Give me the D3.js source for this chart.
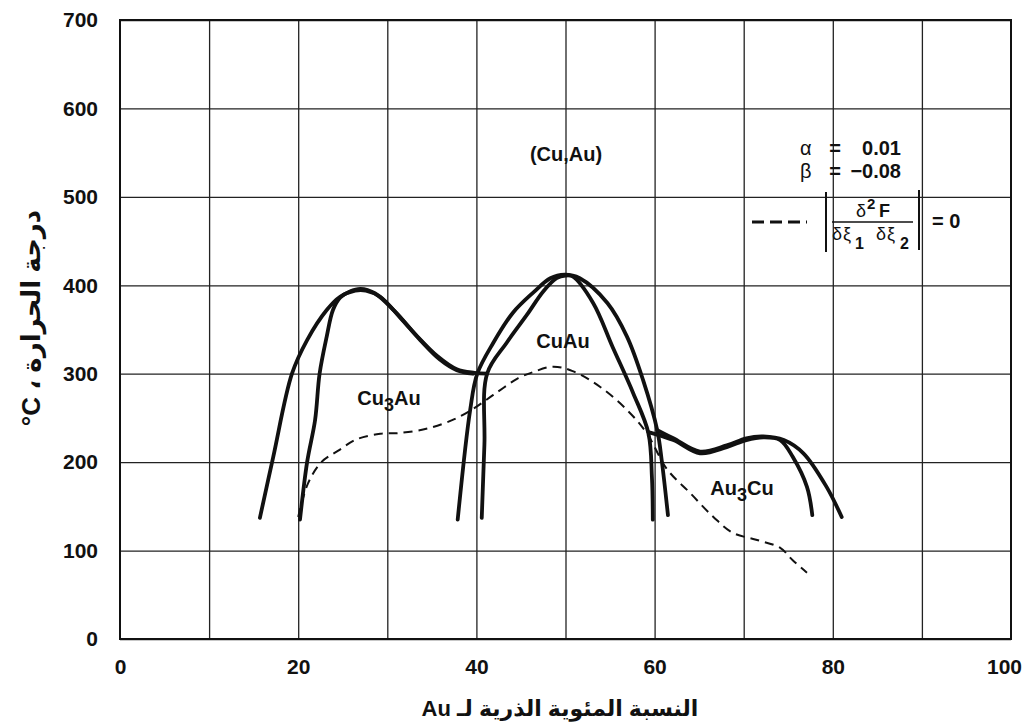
<!DOCTYPE html>
<html>
<head>
<meta charset="utf-8">
<script src="https://cdn.jsdelivr.net/npm/d3@7"></script>
<style>
body { margin: 0; background: #fff; }
text { font-family: "Liberation Sans", Arial, "DejaVu Sans", sans-serif; font-weight: bold; fill: #111; }
</style>
</head>
<body>
<div id="chart"></div>
<script>
// tick values
var xTicks = [0, 20, 40, 60, 80, 100];
var xGridTicks = [10, 20, 30, 40, 50, 60, 70, 80, 90];
var yTicks = [0, 100, 200, 300, 400, 500, 600, 700];

// phase boundaries, [at% Au, temperature °C]
var cu3auOuter = [[15.7,137],[17.2,206],[19.3,300],[21.0,338],[23.2,372],[24.7,387],[26.4,394],[27.6,394],
    [29.2,387],[31.4,364],[33.7,338],[35.9,316],[37.8,304],[39.6,300]];
var cu3auInner = [[20.2,135],[21.0,200],[21.9,248],[22.4,300],[23.2,342],[23.9,372],[24.7,386],[25.8,393],[27.0,396],
    [28.6,391],[30.8,371],[33.2,344],[35.6,320],[37.8,305],[39.8,301],[41.2,300]];
var cuauOuter = [[37.9,135],[39.3,259],[40.1,300],[41.9,335],[44.1,369],[46.4,392],[48.3,408],[49.9,412],
    [51.6,408],[54.7,380],[56.9,342],[58.7,293],[60.3,236],[60.8,202],[61.5,140]];
var cuauInner = [[40.6,137],[40.9,220],[41.2,300],[43.4,335],[45.7,367],[47.5,393],[49.0,408],[50.0,411],
    [50.8,410],[53.1,380],[55.3,330],[57.6,278],[59.3,233],[59.7,183],[59.8,135]];
var au3cuInner = [[59.3,234],[62.1,225],[65.1,210],[68.1,217],[70.3,225],[72.2,228],[74.1,225],[75.5,206],[77.1,172],[77.7,140]];
var au3cuOuter = [[60.3,236],[62.1,227],[65.1,212],[68.1,219],[70.3,227],[72.2,229],[74.5,225],[76.7,210],[79.3,172],[81.0,138]];
var spinodal = [[20.0,138],[21.1,176],[22.6,200],[24.5,213],[26.6,226],[29.2,232],[31.4,233],[34.5,238],[37.4,248],
    [39.6,260],[41.9,276],[44.7,295],[46.4,302],[48.6,308],[50.8,303],[53.9,285],[56.9,259],[59.1,233],[61.4,192],
    [64.0,165],[66.6,138],[68.8,120],[71.5,112],[74.1,103],[75.5,89],[77.1,75]];

var solidCurves = [cu3auOuter, cu3auInner, cuauOuter, cuauInner, au3cuInner, au3cuOuter];

var margin = { top: 20, right: 15, bottom: 87, left: 120 },
    width = 1026 - margin.left - margin.right,
    height = 726 - margin.top - margin.bottom;

var root = d3.select("#chart").append("svg")
    .attr("width", 1026)
    .attr("height", 726);
var svg = root.append("g")
    .attr("transform", "translate(" + margin.left + "," + margin.top + ")");

var x = d3.scaleLinear().domain([0, 100]).range([0, width]);
var y = d3.scaleLinear().domain([0, 700]).range([height, 0]);

// grid
svg.append("g")
    .attr("class", "grid")
    .attr("transform", "translate(0," + height + ")")
    .call(d3.axisBottom(x).tickValues(xGridTicks).tickSize(-height).tickFormat(""));
svg.append("g")
    .attr("class", "grid")
    .call(d3.axisLeft(y).tickValues(yTicks).tickSize(-width).tickFormat(""));
svg.selectAll(".grid .domain").remove();
svg.selectAll(".grid line").style("stroke", "#222").style("stroke-width", 1.3);

svg.append("rect")
    .attr("width", width).attr("height", height)
    .style("fill", "none").style("stroke", "#111").style("stroke-width", 2);

// tick labels
var xAxis = svg.append("g")
    .attr("transform", "translate(0," + height + ")")
    .call(d3.axisBottom(x).tickValues(xTicks).tickSize(0).tickPadding(20));
var yAxis = svg.append("g")
    .call(d3.axisLeft(y).tickValues(yTicks).tickSize(0).tickPadding(22));
xAxis.select(".domain").remove();
yAxis.select(".domain").remove();
svg.selectAll(".tick text")
    .style("font-size", "21px")
    .style("font-family", "'Liberation Sans', Arial, sans-serif")
    .style("font-weight", "bold")
    .style("fill", "#111");
// last label sits against the page edge, pull it in a bit
xAxis.selectAll(".tick text").filter(function(d) { return d === 100; }).attr("dx", -7);

// curves
var line = d3.line()
    .x(function(d) { return x(d[0]); })
    .y(function(d) { return y(d[1]); })
    .curve(d3.curveCatmullRom.alpha(0.5));

svg.selectAll(".boundary")
    .data(solidCurves)
    .enter().append("path")
    .attr("class", "boundary")
    .attr("d", line)
    .style("fill", "none")
    .style("stroke", "#111")
    .style("stroke-width", 3.8)
    .style("stroke-linecap", "round")
    .style("stroke-linejoin", "round");

svg.append("path")
    .datum(spinodal)
    .attr("d", line)
    .style("fill", "none")
    .style("stroke", "#111")
    .style("stroke-width", 2)
    .style("stroke-dasharray", "9,6");

// phase labels
function phaseLabel(px, py, parts) {
    var t = root.append("text")
        .attr("x", px).attr("y", py)
        .attr("text-anchor", "middle")
        .style("font-size", "20px");
    parts.forEach(function(p) {
        t.append("tspan")
            .attr("dy", p.sub ? 6 : (p.after ? -6 : 0))
            .style("font-size", p.sub ? "18px" : "20px")
            .text(p.s);
    });
}
phaseLabel(566, 161, [{ s: "(Cu,Au)" }]);
phaseLabel(389, 405, [{ s: "Cu" }, { s: "3", sub: true }, { s: "Au", after: true }]);
phaseLabel(563, 348, [{ s: "CuAu" }]);
phaseLabel(742, 495, [{ s: "Au" }, { s: "3", sub: true }, { s: "Cu", after: true }]);

// legend block
var lg = root.append("g").style("font-size", "20px");
lg.append("text").attr("x", 800).attr("y", 155).style("font-weight", "normal").text("α");
lg.append("text").attr("x", 835).attr("y", 155).attr("text-anchor", "middle").text("=");
lg.append("text").attr("x", 901).attr("y", 155).attr("text-anchor", "end").text("0.01");
lg.append("text").attr("x", 800).attr("y", 178).style("font-weight", "normal").text("β");
lg.append("text").attr("x", 835).attr("y", 178).attr("text-anchor", "middle").text("=");
lg.append("text").attr("x", 901).attr("y", 178).attr("text-anchor", "end").text("\u22120.08");

lg.append("line").attr("x1", 752).attr("x2", 807).attr("y1", 222).attr("y2", 222)
    .style("stroke", "#111").style("stroke-width", 2.8).style("stroke-dasharray", "12,6");
lg.append("line").attr("x1", 826).attr("x2", 826).attr("y1", 192).attr("y2", 252)
    .style("stroke", "#111").style("stroke-width", 2);
lg.append("line").attr("x1", 919).attr("x2", 919).attr("y1", 190).attr("y2", 250)
    .style("stroke", "#111").style("stroke-width", 2);
lg.append("line").attr("x1", 832).attr("x2", 913).attr("y1", 222).attr("y2", 222)
    .style("stroke", "#111").style("stroke-width", 1.5);

var num = lg.append("text").attr("y", 217).style("font-size", "18px");
num.append("tspan").attr("x", 856).style("font-weight", "normal").text("δ");
num.append("tspan").attr("x", 867).attr("dy", -8).style("font-size", "15px").text("2");
num.append("tspan").attr("x", 879).attr("dy", 8).text("F");

var den = lg.append("text").attr("y", 240).style("font-size", "18px");
den.append("tspan").attr("x", 832).style("font-weight", "normal").text("δ");
den.append("tspan").attr("x", 843).style("font-weight", "normal").text("ξ");
den.append("tspan").attr("x", 855).attr("dy", 9).style("font-size", "16px").text("1");
den.append("tspan").attr("x", 876).attr("dy", -9).style("font-weight", "normal").text("δ");
den.append("tspan").attr("x", 887).style("font-weight", "normal").text("ξ");
den.append("tspan").attr("x", 900).attr("dy", 9).style("font-size", "16px").text("2");

lg.append("text").attr("x", 932).attr("y", 228).text("= 0");

// axis titles
root.append("text")
    .attr("x", 560).attr("y", 716)
    .attr("text-anchor", "middle")
    .attr("direction", "rtl")
    .style("font-size", "22px")
    .text("النسبة المئوية الذرية لـ Au");

root.append("text")
    .attr("transform", "translate(40,318) rotate(-90)")
    .attr("text-anchor", "middle")
    .attr("direction", "rtl")
    .style("font-size", "26px")
    .text("درجة الحرارة ، \u200E°C");
</script>
</body>
</html>
